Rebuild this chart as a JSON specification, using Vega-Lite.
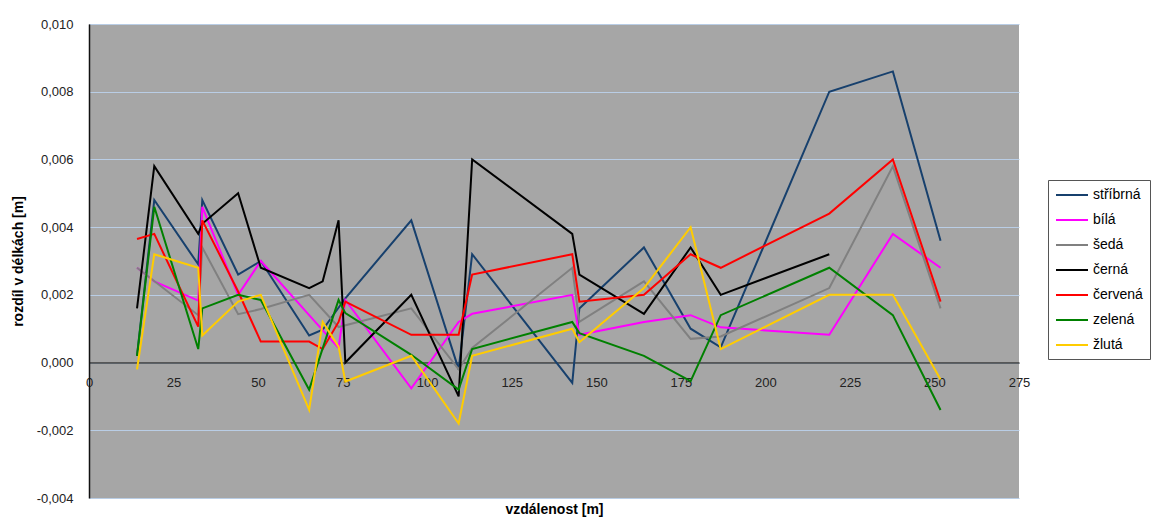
{
  "$schema": "https://vega.github.io/schema/vega-lite/v6.json",
  "width": 930,
  "height": 474,
  "autosize": {"type": "none"},
  "padding": {"left": 89, "top": 24, "right": 138, "bottom": 20},
  "background": "#ffffff",
  "config": {
    "font": "Liberation Sans",
    "view": {"fill": "#a6a6a6", "stroke": null}
  },
  "data": {
    "values": [
      {"barva": "stříbrná", "x": 14.2, "y": 0.0002},
      {"barva": "stříbrná", "x": 19.3, "y": 0.0048},
      {"barva": "stříbrná", "x": 32.3, "y": 0.0029},
      {"barva": "stříbrná", "x": 33.5, "y": 0.0048},
      {"barva": "stříbrná", "x": 44.1, "y": 0.0026},
      {"barva": "stříbrná", "x": 50.8, "y": 0.0030},
      {"barva": "stříbrná", "x": 65.1, "y": 0.0008},
      {"barva": "stříbrná", "x": 69.1, "y": 0.00097},
      {"barva": "stříbrná", "x": 75.8, "y": 0.0019},
      {"barva": "stříbrná", "x": 95.3, "y": 0.0042},
      {"barva": "stříbrná", "x": 109.3, "y": -0.0002},
      {"barva": "stříbrná", "x": 113.3, "y": 0.0032},
      {"barva": "stříbrná", "x": 142.9, "y": -0.0006},
      {"barva": "stříbrná", "x": 145.0, "y": 0.0016},
      {"barva": "stříbrná", "x": 164.1, "y": 0.0034},
      {"barva": "stříbrná", "x": 177.9, "y": 0.0010},
      {"barva": "stříbrná", "x": 186.8, "y": 0.00045},
      {"barva": "stříbrná", "x": 218.9, "y": 0.0080},
      {"barva": "stříbrná", "x": 237.7, "y": 0.0086},
      {"barva": "stříbrná", "x": 251.8, "y": 0.0036},

      {"barva": "bílá", "x": 14.2, "y": 0.0028},
      {"barva": "bílá", "x": 19.3, "y": 0.0024},
      {"barva": "bílá", "x": 32.3, "y": 0.00183},
      {"barva": "bílá", "x": 33.5, "y": 0.0046},
      {"barva": "bílá", "x": 44.1, "y": 0.0020},
      {"barva": "bílá", "x": 50.8, "y": 0.0030},
      {"barva": "bílá", "x": 65.1, "y": 0.0014},
      {"barva": "bílá", "x": 73.8, "y": 0.00043},
      {"barva": "bílá", "x": 75.8, "y": 0.00185},
      {"barva": "bílá", "x": 95.3, "y": -0.00076},
      {"barva": "bílá", "x": 109.3, "y": 0.0012},
      {"barva": "bílá", "x": 113.3, "y": 0.00144},
      {"barva": "bílá", "x": 142.9, "y": 0.0020},
      {"barva": "bílá", "x": 145.0, "y": 0.00082},
      {"barva": "bílá", "x": 164.1, "y": 0.0012},
      {"barva": "bílá", "x": 177.9, "y": 0.0014},
      {"barva": "bílá", "x": 186.8, "y": 0.00104},
      {"barva": "bílá", "x": 218.9, "y": 0.00082},
      {"barva": "bílá", "x": 237.7, "y": 0.0038},
      {"barva": "bílá", "x": 251.8, "y": 0.0028},

      {"barva": "šedá", "x": 14.2, "y": 0.0028},
      {"barva": "šedá", "x": 32.3, "y": 0.0014},
      {"barva": "šedá", "x": 33.5, "y": 0.0034},
      {"barva": "šedá", "x": 44.1, "y": 0.00143},
      {"barva": "šedá", "x": 50.8, "y": 0.00158},
      {"barva": "šedá", "x": 65.1, "y": 0.0020},
      {"barva": "šedá", "x": 73.8, "y": 0.00105},
      {"barva": "šedá", "x": 95.3, "y": 0.0016},
      {"barva": "šedá", "x": 109.3, "y": -0.0002},
      {"barva": "šedá", "x": 113.3, "y": 0.00043},
      {"barva": "šedá", "x": 142.9, "y": 0.0028},
      {"barva": "šedá", "x": 145.0, "y": 0.0012},
      {"barva": "šedá", "x": 164.1, "y": 0.0024},
      {"barva": "šedá", "x": 177.9, "y": 0.0007},
      {"barva": "šedá", "x": 186.8, "y": 0.00077},
      {"barva": "šedá", "x": 218.9, "y": 0.0022},
      {"barva": "šedá", "x": 237.7, "y": 0.0058},
      {"barva": "šedá", "x": 251.8, "y": 0.0016},

      {"barva": "černá", "x": 14.2, "y": 0.0016},
      {"barva": "černá", "x": 19.3, "y": 0.0058},
      {"barva": "černá", "x": 32.3, "y": 0.0038},
      {"barva": "černá", "x": 33.5, "y": 0.0041},
      {"barva": "černá", "x": 44.1, "y": 0.0050},
      {"barva": "černá", "x": 50.8, "y": 0.0028},
      {"barva": "černá", "x": 65.1, "y": 0.0022},
      {"barva": "černá", "x": 69.1, "y": 0.0024},
      {"barva": "černá", "x": 73.8, "y": 0.0042},
      {"barva": "černá", "x": 75.8, "y": 0.0},
      {"barva": "černá", "x": 95.3, "y": 0.0020},
      {"barva": "černá", "x": 109.3, "y": -0.0010},
      {"barva": "černá", "x": 113.3, "y": 0.0060},
      {"barva": "černá", "x": 142.9, "y": 0.0038},
      {"barva": "černá", "x": 145.0, "y": 0.0026},
      {"barva": "černá", "x": 164.1, "y": 0.00144},
      {"barva": "černá", "x": 177.9, "y": 0.0034},
      {"barva": "černá", "x": 186.8, "y": 0.0020},
      {"barva": "černá", "x": 218.9, "y": 0.0032},

      {"barva": "červená", "x": 14.2, "y": 0.00365},
      {"barva": "červená", "x": 19.3, "y": 0.0038},
      {"barva": "červená", "x": 32.3, "y": 0.00106},
      {"barva": "červená", "x": 33.5, "y": 0.0042},
      {"barva": "červená", "x": 44.1, "y": 0.0021},
      {"barva": "červená", "x": 50.8, "y": 0.00062},
      {"barva": "červená", "x": 65.1, "y": 0.00062},
      {"barva": "červená", "x": 69.1, "y": 0.0004},
      {"barva": "červená", "x": 73.8, "y": 0.0012},
      {"barva": "červená", "x": 75.8, "y": 0.0018},
      {"barva": "červená", "x": 95.3, "y": 0.00082},
      {"barva": "červená", "x": 109.3, "y": 0.00082},
      {"barva": "červená", "x": 113.3, "y": 0.0026},
      {"barva": "červená", "x": 142.9, "y": 0.0032},
      {"barva": "červená", "x": 145.0, "y": 0.0018},
      {"barva": "červená", "x": 164.1, "y": 0.0020},
      {"barva": "červená", "x": 177.9, "y": 0.0032},
      {"barva": "červená", "x": 186.8, "y": 0.0028},
      {"barva": "červená", "x": 218.9, "y": 0.0044},
      {"barva": "červená", "x": 237.7, "y": 0.0060},
      {"barva": "červená", "x": 251.8, "y": 0.0018},

      {"barva": "zelená", "x": 14.2, "y": 0.0002},
      {"barva": "zelená", "x": 19.3, "y": 0.0046},
      {"barva": "zelená", "x": 32.3, "y": 0.0004},
      {"barva": "zelená", "x": 33.5, "y": 0.0016},
      {"barva": "zelená", "x": 44.1, "y": 0.0020},
      {"barva": "zelená", "x": 50.8, "y": 0.00185},
      {"barva": "zelená", "x": 65.1, "y": -0.0008},
      {"barva": "zelená", "x": 73.8, "y": 0.00185},
      {"barva": "zelená", "x": 75.8, "y": 0.00146},
      {"barva": "zelená", "x": 95.3, "y": 0.00023},
      {"barva": "zelená", "x": 109.3, "y": -0.0008},
      {"barva": "zelená", "x": 113.3, "y": 0.0004},
      {"barva": "zelená", "x": 142.9, "y": 0.0012},
      {"barva": "zelená", "x": 145.0, "y": 0.00087},
      {"barva": "zelená", "x": 164.1, "y": 0.0002},
      {"barva": "zelená", "x": 177.9, "y": -0.00055},
      {"barva": "zelená", "x": 186.8, "y": 0.0014},
      {"barva": "zelená", "x": 218.9, "y": 0.0028},
      {"barva": "zelená", "x": 237.7, "y": 0.0014},
      {"barva": "zelená", "x": 251.8, "y": -0.0014},

      {"barva": "žlutá", "x": 14.2, "y": -0.0002},
      {"barva": "žlutá", "x": 19.3, "y": 0.0032},
      {"barva": "žlutá", "x": 32.3, "y": 0.0028},
      {"barva": "žlutá", "x": 33.5, "y": 0.0008},
      {"barva": "žlutá", "x": 44.1, "y": 0.0018},
      {"barva": "žlutá", "x": 50.8, "y": 0.0020},
      {"barva": "žlutá", "x": 65.1, "y": -0.0014},
      {"barva": "žlutá", "x": 69.1, "y": 0.0012},
      {"barva": "žlutá", "x": 73.8, "y": 0.00047},
      {"barva": "žlutá", "x": 75.8, "y": -0.00056},
      {"barva": "žlutá", "x": 95.3, "y": 0.0002},
      {"barva": "žlutá", "x": 109.3, "y": -0.0018},
      {"barva": "žlutá", "x": 113.3, "y": 0.0002},
      {"barva": "žlutá", "x": 142.9, "y": 0.0010},
      {"barva": "žlutá", "x": 145.0, "y": 0.0006},
      {"barva": "žlutá", "x": 164.1, "y": 0.0022},
      {"barva": "žlutá", "x": 177.9, "y": 0.0040},
      {"barva": "žlutá", "x": 186.8, "y": 0.0004},
      {"barva": "žlutá", "x": 218.9, "y": 0.0020},
      {"barva": "žlutá", "x": 237.7, "y": 0.0020},
      {"barva": "žlutá", "x": 251.8, "y": -0.0005}
    ]
  },
  "mark": {"type": "line", "strokeWidth": 2, "clip": true},
  "encoding": {
    "x": {
      "field": "x",
      "type": "quantitative",
      "scale": {"domain": [0, 275], "nice": false, "zero": true},
      "axis": {
        "values": [0, 25, 50, 75, 100, 125, 150, 175, 200, 225, 250, 275],
        "offset": -135.43,
        "ticks": false,
        "grid": false,
        "domainColor": "#3c3c3c",
        "domainWidth": 1.5,
        "labelPadding": 14,
        "labelFontSize": 13,
        "labelColor": "#222222",
        "labelFlush": false,
        "labelOverlap": false,
        "title": "vzdálenost [m]",
        "titleY": 147,
        "titleBaseline": "middle",
        "titleFontSize": 14,
        "titleFontWeight": "bold",
        "titleColor": "#000000"
      }
    },
    "y": {
      "field": "y",
      "type": "quantitative",
      "scale": {"domain": [-0.004, 0.01], "nice": false, "zero": false},
      "axis": {
        "values": [-0.004, -0.002, 0, 0.002, 0.004, 0.006, 0.008, 0.01],
        "labelExpr": "replace(replace(format(datum.value, '.3f'), '.', ','), '\u2212', '-')",
        "ticks": false,
        "domainColor": "#111111",
        "domainWidth": 1.5,
        "grid": true,
        "gridColor": "#b9cde5",
        "gridWidth": 1,
        "labelPadding": 16,
        "labelFontSize": 13,
        "labelColor": "#222222",
        "labelFlush": false,
        "labelOverlap": false,
        "title": "rozdíl v délkách [m]",
        "titleX": -71,
        "titleY": 237,
        "titleAngle": -90,
        "titleAlign": "center",
        "titleBaseline": "middle",
        "titleFontSize": 14,
        "titleFontWeight": "bold",
        "titleColor": "#000000"
      }
    },
    "color": {
      "field": "barva",
      "type": "nominal",
      "scale": {
        "domain": ["stříbrná", "bílá", "šedá", "černá", "červená", "zelená", "žlutá"],
        "range": ["#17406d", "#ff00ff", "#808080", "#000000", "#ff0000", "#008000", "#ffcc00"]
      },
      "legend": {
        "title": null,
        "orient": "none",
        "legendX": 959,
        "legendY": 156,
        "symbolType": "M-1,0H3.571",
        "symbolSize": 196,
        "symbolStrokeWidth": 2,
        "symbolFillColor": "transparent",
        "labelFontSize": 14,
        "labelOffset": 22,
        "labelColor": "#000000",
        "rowPadding": 10,
        "padding": 7,
        "strokeColor": "#555555",
        "fillColor": "#ffffff"
      }
    }
  }
}
